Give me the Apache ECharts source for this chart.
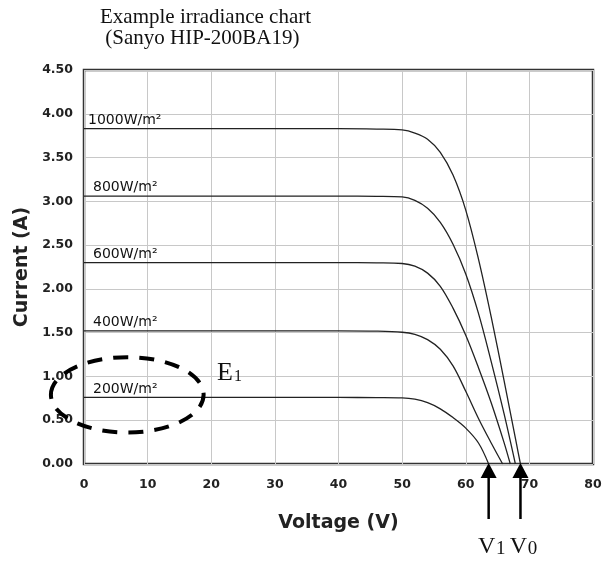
<!DOCTYPE html>
<html>
<head>
<meta charset="utf-8">
<script src="https://cdn.jsdelivr.net/npm/echarts@6/dist/echarts.min.js"></script>
<style>
html,body{margin:0;padding:0;background:#fff;}
#chart{width:610px;height:561px;}
</style>
</head>
<body>
<div id="chart"></div>
<script>
// ---- data (voltage V, current A) ----
const titleLines = ['Example irradiance chart', ' (Sanyo HIP-200BA19)'];
const xTicks = [0, 10, 20, 30, 40, 50, 60, 70, 80];
const yTicks = [0, 0.5, 1, 1.5, 2, 2.5, 3, 3.5, 4, 4.5];
const irradianceLabels = ['1000W/m²', '800W/m²', '600W/m²', '400W/m²', '200W/m²'];
const curve1000 = [[0,3.83],[40,3.83],[46,3.825],[50,3.815],[52,3.78],[54,3.71],[56,3.56],[58,3.30],[60,2.90],[62,2.34],[64,1.68],[66,0.96],[68,0.22],[68.6,0]];
const curve800  = [[0,3.06],[40,3.06],[46,3.057],[50,3.05],[52,3.01],[54,2.92],[56,2.76],[58,2.51],[60,2.17],[62,1.72],[64,1.17],[66,0.58],[67.8,0]];
const curve600  = [[0,2.30],[40,2.30],[46,2.297],[50,2.29],[52,2.26],[54,2.18],[56,2.03],[58,1.78],[60,1.47],[62,1.10],[64,0.70],[66,0.25],[67.0,0]];
const curve400  = [[0,1.52],[40,1.52],[46,1.517],[50,1.505],[52,1.48],[54,1.42],[56,1.31],[58,1.12],[60,0.83],[62,0.52],[64,0.24],[65.8,0]];
const curve200  = [[0,0.76],[40,0.76],[46,0.758],[50,0.755],[52,0.74],[54,0.70],[56,0.63],[58,0.53],[60,0.41],[62,0.24],[63.6,0]];
const curves = [curve1000, curve800, curve600, curve400, curve200];
const labelOffsets = [4, 9, 9, 9, 9];
const arrowVoltages = [63.6, 68.6];          // V1, V0
const arrowNames = [['V','1'], ['V','0']];
const ellipseCenter = [6.8, 0.79];             // E1 region (V, A)
const ellipseRadius = [12, 0.43];

const chart = echarts.init(document.getElementById('chart'), null, {renderer: 'canvas'});
const tickFont = {fontFamily: 'DejaVu Sans', fontWeight: 'bold', fontSize: 12.5, color: '#222'};

const series = curves.map((c, k) => ({
  type: 'line',
  data: c,
  symbol: 'none',
  smooth: 0.35,
  lineStyle: {color: '#222', width: 1.3},
  silent: true,
  markPoint: {
    symbol: 'rect', symbolSize: 0,
    silent: true,
    data: [{coord: c[0]}],
    label: {
      show: true,
      formatter: irradianceLabels[k],
      position: [labelOffsets[k], -1],
      align: 'left',
      verticalAlign: 'bottom',
      fontFamily: 'DejaVu Sans',
      fontSize: 14,
      lineHeight: 15,
      color: '#111'
    }
  }
}));

chart.setOption({
  animation: false,
  backgroundColor: '#fff',
  title: {
    text: titleLines.join('\n'),
    left: 95, top: 2,
    textStyle: {fontFamily: 'Liberation Serif', fontSize: 21, fontWeight: 'normal', lineHeight: 21, color: '#111'}
  },
  grid: {left: 84, right: 17, top: 70, bottom: 97, show: true, borderColor: '#333', borderWidth: 2.5},
  xAxis: {
    type: 'value', min: 0, max: 80, interval: 10,
    name: 'Voltage (V)', nameLocation: 'middle', nameGap: 50,
    nameTextStyle: {fontFamily: 'DejaVu Sans', fontWeight: 'bold', fontSize: 19, color: '#222'},
    axisLine: {show: false}, axisTick: {show: false},
    axisLabel: Object.assign({margin: 14, formatter: v => xTicks.includes(v) ? String(v) : ''}, tickFont),
    splitLine: {show: true, lineStyle: {color: '#c8c8c8', width: 1}}
  },
  yAxis: {
    type: 'value', min: 0, max: 4.5, interval: 0.5,
    name: 'Current (A)', nameLocation: 'middle', nameGap: 47,
    nameTextStyle: {fontFamily: 'DejaVu Sans', fontWeight: 'bold', fontSize: 19, color: '#222'},
    axisLine: {show: false}, axisTick: {show: false},
    axisLabel: Object.assign({margin: 11, formatter: v => yTicks.some(t => Math.abs(t - v) < 1e-9) ? v.toFixed(2) : ''}, tickFont),
    splitLine: {show: true, lineStyle: {color: '#c8c8c8', width: 1}}
  },
  series: series
});

// ---- annotations placed via the chart's own coordinate system ----
const px = (p) => chart.convertToPixel({gridIndex: 0}, p);
const graphics = [];
const c0 = px(ellipseCenter);
const cr = px([ellipseCenter[0] + ellipseRadius[0], ellipseCenter[1] + ellipseRadius[1]]);
graphics.push({
  type: 'ellipse', z: 100, silent: true,
  shape: {cx: c0[0], cy: c0[1], rx: cr[0] - c0[0], ry: c0[1] - cr[1]},
  style: {fill: null, stroke: '#000', lineWidth: 4, lineDash: [15, 11]}
});
graphics.push({type: 'text', z: 100, silent: true,
  style: {x: 225, y: 373, text: 'E', font: '26px "Liberation Serif"', fill: '#111', align: 'center', verticalAlign: 'middle'}});
graphics.push({type: 'text', z: 100, silent: true,
  style: {x: 238, y: 377, text: '1', font: '16px "Liberation Serif"', fill: '#111', align: 'center', verticalAlign: 'middle'}});

arrowVoltages.forEach((v, k) => {
  const tip = px([v, 0]);
  const x = tip[0], y = tip[1];
  graphics.push({type: 'line', z: 100, silent: true,
    shape: {x1: x, y1: y + 12, x2: x, y2: y + 55},
    style: {stroke: '#000', lineWidth: 2.5}});
  graphics.push({type: 'polygon', z: 100, silent: true,
    shape: {points: [[x, y - 1], [x - 8, y + 14], [x + 8, y + 14]]},
    style: {fill: '#000'}});
  graphics.push({type: 'text', z: 100, silent: true,
    style: {x: x - 2, y: 547, text: arrowNames[k][0], font: '24px "Liberation Serif"', fill: '#111', align: 'center', verticalAlign: 'middle'}});
  graphics.push({type: 'text', z: 100, silent: true,
    style: {x: x + 12, y: 549, text: arrowNames[k][1], font: '19px "Liberation Serif"', fill: '#111', align: 'center', verticalAlign: 'middle'}});
});
chart.setOption({graphic: graphics});
</script>
</body>
</html>
